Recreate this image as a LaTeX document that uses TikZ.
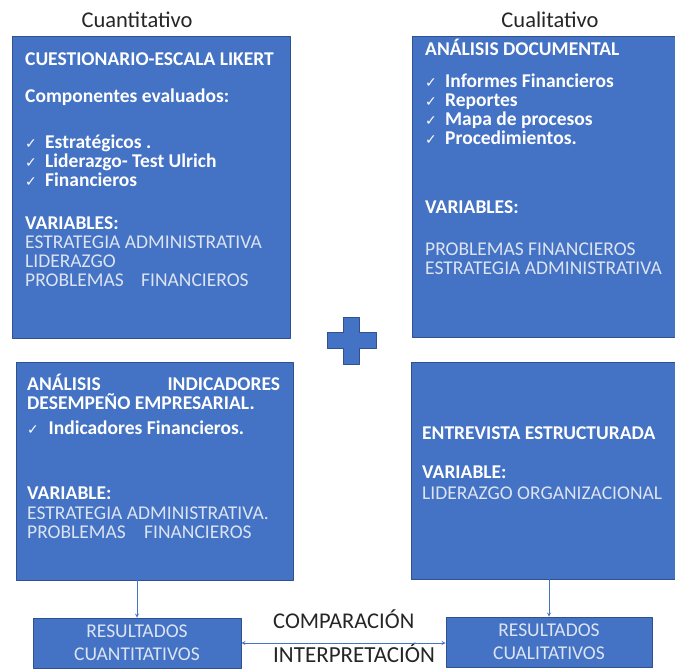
\documentclass[tikz,border=0pt]{standalone}
\usepackage{fontspec}
\setmainfont{Carlito}
\newfontfamily\symfont{DejaVu Sans}
\definecolor{boxblue}{HTML}{4472C4}
\definecolor{boxline}{HTML}{2F528F}
\definecolor{paletext}{HTML}{DCE4F2}
\definecolor{headtext}{HTML}{262626}
\newcommand{\chk}[1][20pt]{\makebox[#1][l]{\symfont\mdseries\fontsize{14}{14}\selectfont ✓}}
\begin{document}
\begin{tikzpicture}[x=1pt,y=-1pt,line join=round,>=stealth,
	box/.style={draw=boxline,fill=boxblue,line width=0.8pt,inner sep=0pt},
	resbox/.style={box,minimum height=50pt,align=center,text=paletext,font=\fontsize{19.5}{23}\selectfont},
	txt/.style={anchor=west,inner sep=0pt,align=left},
	boldtxt/.style={txt,text=white,font=\fontsize{19.5}{19}\selectfont\bfseries},
	plaintxt/.style={txt,text=paletext,font=\fontsize{19.5}{19}\selectfont},
	hd/.style={inner sep=0pt,text=headtext,font=\fontsize{22.5}{24}\selectfont},
	link/.style={draw=boxblue,line width=0.8pt}]
	\useasboundingbox[fill=white] (0,0) rectangle (675,669);
	\clip (0,0) rectangle (675,669);
	\node[hd] (cuant) at (137,20) {Cuantitativo};
	\node[hd] (cual) at (550,20) {Cualitativo};
	\node[box,minimum width=278pt,minimum height=302pt] (cuest) at (151,187) {};
	\node[box,minimum width=268pt,minimum height=301pt] (docu) at (546,186.5) {};
	\node[box,minimum width=277pt,minimum height=218pt] (indic) at (154.5,471) {};
	\node[box,minimum width=269pt,minimum height=217pt] (entre) at (545.5,470.5) {};
	\fill[boxblue,draw=boxline,line width=0.8pt] (343,317) -- (359,317) -- (359,332) -- (376,332) -- (376,348) -- (359,348) -- (359,364) -- (343,364) -- (343,348) -- (327,348) -- (327,332) -- (343,332) -- cycle;
	\node[boldtxt] (cuest1) at (25,59) {CUESTIONARIO-ESCALA LIKERT};
	\node[boldtxt] (cuest2) at (25,97) {Componentes evaluados:};
	\node[boldtxt] (cuest3) at (25,161) {\chk Estratégicos .\\ \chk Liderazgo- Test Ulrich\\ \chk Financieros};
	\node[boldtxt] (cuest4) at (25,223) {VARIABLES:};
	\node[plaintxt] (cuest5) at (25,261) {ESTRATEGIA ADMINISTRATIVA\\ LIDERAZGO\\ PROBLEMAS\hspace{13pt} FINANCIEROS};
	\node[boldtxt] (docu1) at (425,47) {ANÁLISIS DOCUMENTAL};
	\node[boldtxt] (docu2) at (425,109) {\chk Informes Financieros\\ \chk Reportes\\ \chk Mapa de procesos\\ \chk Procedimientos.};
	\node[boldtxt] (docu3) at (425,207) {VARIABLES:};
	\node[plaintxt] (docu4) at (425,259) {PROBLEMAS FINANCIEROS\\ ESTRATEGIA ADMINISTRATIVA};
	\node[boldtxt] (indic1) at (27,391.5) {\makebox[253pt][l]{ANÁLISIS\hfill INDICADORES}\\ DESEMPEÑO EMPRESARIAL.};
	\node[boldtxt] (indic2) at (27,428) {\chk[17pt] Indicadores Financieros.};
	\node[boldtxt] (indic3) at (27,493) {VARIABLE:};
	\node[plaintxt] (indic4) at (27,522.5) {ESTRATEGIA ADMINISTRATIVA.\\ PROBLEMAS\hspace{14pt} FINANCIEROS};
	\node[boldtxt] (entre1) at (422,433) {ENTREVISTA ESTRUCTURADA};
	\node[boldtxt] (entre2) at (422,472) {VARIABLE:};
	\node[plaintxt] (entre3) at (422,493) {LIDERAZGO ORGANIZACIONAL};
	\node[resbox,minimum width=208pt] (resq) at (137,643) {RESULTADOS\\ CUANTITATIVOS};
	\node[resbox,minimum width=206pt] (resc) at (549,642) {RESULTADOS\\ CUALITATIVOS};
	\node[hd,anchor=base west] (comp) at (273,628) {COMPARACIÓN};
	\node[hd,anchor=base west,font=\fontsize{23}{24}\selectfont] (interp) at (273,662) {INTERPRETACIÓN};
	\draw[link,->] (indic.south -| resq.north) -- (resq.north);
	\draw[link,->] (entre.south -| resc.north) -- (resc.north);
	\draw[link,<->] (resq.east) -- (resc.west |- resq.east);
\end{tikzpicture}
\end{document}
